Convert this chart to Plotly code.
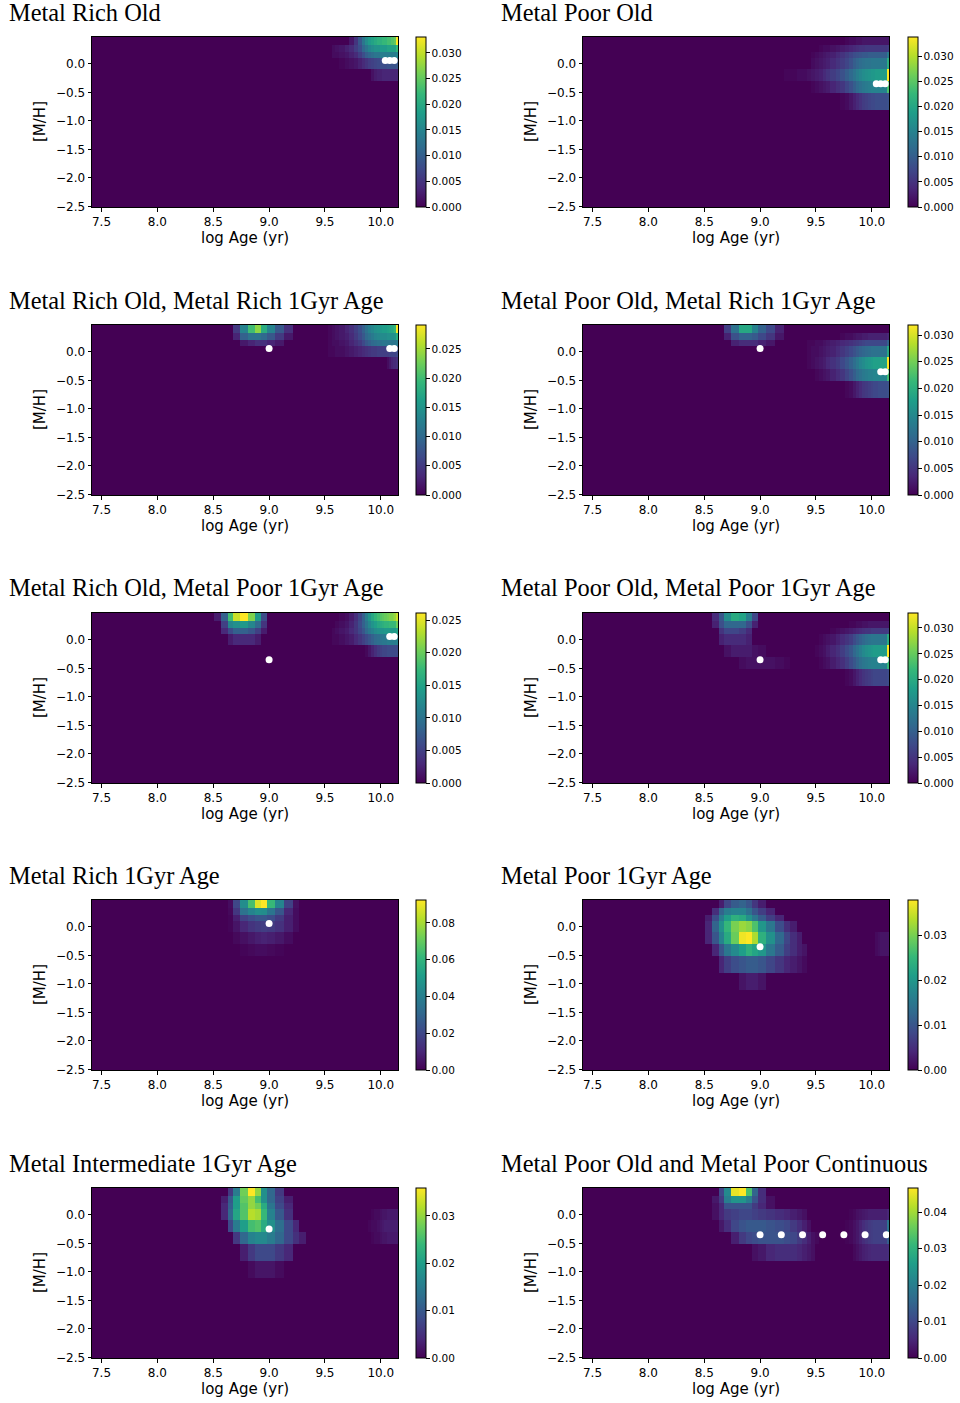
import numpy as np
import plotly.graph_objects as go

# ---------------------------------------------------------------------------
# Model grid: SSP ages (Gyr) and metallicities [M/H]
# ---------------------------------------------------------------------------
AGES_GYR = [0.03, 0.04, 0.05, 0.06, 0.07, 0.08, 0.09, 0.10,
            0.15, 0.20, 0.25, 0.30, 0.35, 0.40, 0.45, 0.50,
            0.60, 0.70, 0.80, 0.90, 1.00,
            1.25, 1.50, 1.75, 2.00, 2.25, 2.50, 2.75, 3.00, 3.25, 3.50, 3.75, 4.00,
            4.5, 5.0, 5.5, 6.0, 6.5, 7.0, 7.5, 8.0, 8.5, 9.0, 9.5, 10.0,
            10.5, 11.0, 11.5, 12.0, 12.5, 13.0, 13.5, 14.0]
MH_GRID = [-2.27, -1.79, -1.49, -1.26, -0.96, -0.66, -0.35, -0.25, 0.06, 0.15, 0.26, 0.40]

# Recovered weights, in units of 1e-3.
# Each entry: (metallicity row index, first age index, weights along age)
W_METAL_RICH_OLD = [
    (11, 35, [2, 5, 9, 13, 16, 18, 19, 20, 21, 21, 22, 22, 23, 23, 24, 24, 25, 33.1]),
    (10, 31, [1, 1.5, 2, 3, 4, 6, 8, 11, 13, 15, 16, 17, 17, 18, 18, 18, 19, 19, 19, 19, 19, 22]),
    (9, 31, [1, 1, 1.5, 2, 3, 4, 6, 8, 10, 11, 12, 13, 13, 14, 14, 14, 14, 14, 14, 14, 14, 15]),
    (8, 33, [0.5, 1, 1.5, 2, 3, 4, 5, 6, 6.5, 7, 7.5, 8, 8, 8, 8.5, 8.5, 8.5, 8.5, 8.5, 9]),
    (7, 41, [1.5, 2.5, 3, 3, 3.5, 3.5, 3.5, 3.5, 3.5, 3.5, 3.5, 3.5]),
]
W_METAL_POOR_OLD = [
    (11, 36, [0.5, 1, 1, 1.5, 1.5, 2, 2, 2, 2, 2, 2, 2, 2, 2, 2, 2, 2]),
    (10, 30, [0.5, 1, 1, 1.5, 2, 2.5, 3, 3.5, 4, 4.5, 5, 5, 5.5, 5.5, 5.5, 5.5, 5.5, 5.5, 5.5, 5.5, 5.5, 5.5, 6]),
    (9, 28, [0.5, 1, 1.5, 2, 2.5, 3, 4, 5, 6, 7, 8, 8.5, 9, 9.5, 9.5, 10, 10, 10, 10, 10, 10, 10, 10, 10, 14]),
    (8, 28, [1, 1.5, 2, 2.5, 3, 4, 5, 6, 7, 8.5, 10, 11, 12, 12.5, 13, 13, 13.5, 13.5, 13.5, 13.5, 13.5, 13.5, 13.5, 13.5, 21]),
    (7, 23, [0.5, 0.5, 1, 1, 1.5, 2, 2.5, 3, 4, 5, 6, 7, 8.5, 10, 11.5, 13, 14.5, 15.5, 16.5, 17, 17.5, 18, 18,
             18.5, 18.5, 18.5, 18.5, 18.5, 18.5, 33.8]),
    (6, 28, [0.5, 1, 1.5, 2, 2.5, 3.5, 4.5, 5.5, 7, 8.5, 10, 11.5, 12.5, 13.5, 14, 14.5, 15, 15, 15, 15, 15, 15, 15, 15, 24]),
    (5, 35, [0.5, 1, 2, 3, 4, 5, 6, 6.5, 7, 7.5, 7.5, 8, 8, 8, 8, 8, 8, 8.5]),
]
W_MRO_MR1GYR = [
    (11, 15, [5, 13, 20, 24, 18, 13, 8, 4]),
    (10, 15, [3, 9, 11, 11, 10, 8, 5, 2]),
    (9, 16, [2, 3, 4, 4, 3, 2]),
    (11, 30, [0.5, 1, 1.5, 2, 3, 4, 5.5, 7, 9, 11, 12.5, 13.5, 14.5, 15, 15.5, 16, 16, 16.5, 17, 17.5, 18, 19, 29.1]),
    (10, 30, [0.5, 1, 1.5, 2, 2.5, 3.5, 5, 6.5, 8, 10, 11, 12, 13, 13.5, 14, 14, 14, 14.5, 14.5, 14.5, 14.5, 15, 18]),
    (9, 30, [0.5, 1, 1, 1.5, 2, 3, 4, 5, 6.5, 8, 9, 10, 10.5, 11, 11, 11.5, 11.5, 11.5, 11.5, 11.5, 11.5, 11.5, 12]),
    (8, 30, [0.5, 0.5, 1, 1, 1.5, 2, 2.5, 3, 3.5, 4, 4.5, 5, 5, 5.5, 5.5, 5.5, 5.5, 5.5, 6, 6, 6, 6, 6.5]),
    (7, 47, [1, 2, 3, 3.5, 3.5, 4]),
]
W_MPO_MR1GYR = [
    (11, 15, [6, 12, 19, 19, 14, 10, 7, 3]),
    (10, 15, [3, 8, 10, 10, 9, 7, 5, 2]),
    (9, 16, [3, 4, 4, 4, 3, 2]),
    (10, 35, [0.5, 1, 1, 1.5, 2, 2, 2.5, 2.5, 3, 3, 3, 3, 3, 3, 3, 3, 3, 3.5]),
    (9, 27, [0.5, 0.5, 1, 1, 1.5, 2, 2.5, 3, 3.5, 4, 4.5, 5, 5.5, 6, 6.5, 7, 7, 7, 7, 7, 7, 7, 7, 7, 7, 10]),
    (8, 27, [0.5, 1, 1, 1.5, 2, 2.5, 3, 4, 5, 6, 7, 8, 9, 10, 10.5, 11, 11.5, 12, 12, 12, 12, 12, 12, 12, 12, 19]),
    (7, 27, [0.5, 1, 1.5, 2, 2.5, 3.5, 4.5, 5.5, 7, 8.5, 10, 11.5, 13, 14.5, 15.5, 16.5, 17, 17.5, 18, 18, 18,
             18.5, 18.5, 18.5, 18.5, 31.9]),
    (6, 29, [0.5, 1, 1.5, 2, 3, 4, 5, 6.5, 8, 9.5, 11, 12, 13, 13.5, 14, 14, 14.5, 14.5, 14.5, 14.5, 14.5, 14.5, 14.5, 22]),
    (5, 36, [0.5, 1, 2, 3, 4, 5, 5.5, 6, 6.5, 7, 7, 7.5, 7.5, 7.5, 7.5, 7.5, 8]),
]
W_MRO_MP1GYR = [
    (11, 12, [2, 8, 18, 24, 26.1, 21, 14, 6]),
    (10, 13, [5, 12, 13, 14, 12, 9, 4]),
    (9, 13, [3, 6, 8, 8, 7, 5, 2]),
    (8, 14, [2, 3, 3, 3, 2]),
    (11, 33, [0.5, 1, 2, 3.5, 5.5, 8, 11, 13.5, 15.5, 17, 18, 19, 19.5, 20, 20.5, 21, 21, 21.5, 22, 24]),
    (10, 32, [0.5, 1, 1.5, 2.5, 4, 6, 8, 10, 12, 13.5, 14.5, 15.5, 16, 16.5, 17, 17, 17.5, 17.5, 17.5, 17.5, 20]),
    (9, 31, [0.5, 1, 1.5, 2, 3, 4, 5.5, 7, 9, 10.5, 11.5, 12.5, 13, 13.5, 13.5, 14, 14, 14, 14, 14, 14, 15]),
    (8, 31, [0.5, 0.5, 1, 1.5, 2, 3, 4, 5, 6, 7, 8, 9, 9.5, 10, 10.5, 10.5, 11, 11, 11, 11, 11, 11.5]),
    (7, 39, [0.5, 1.5, 2.5, 3.5, 4.5, 5, 5.5, 5.5, 6, 6, 6, 6, 6, 6]),
]
W_MPO_MP1GYR = [
    (11, 13, [4, 9, 16, 20, 19, 14, 7]),
    (10, 13, [3, 8, 11, 11, 11, 8, 3]),
    (9, 14, [5, 7, 7, 6, 4]),
    (8, 14, [3, 4, 4, 4, 3]),
    (7, 15, [1.5, 2.5, 2.5, 2.5, 1.5, 1]),
    (6, 17, [1, 1.5, 1.5, 1.5, 1.5, 1, 0.5]),
    (10, 37, [0.5, 0.5, 1, 1, 1.5, 1.5, 2, 2, 2, 2, 2, 2, 2, 2, 2, 2]),
    (9, 33, [0.5, 1, 1.5, 2, 2.5, 3, 3.5, 4, 4.5, 5, 5, 5.5, 5.5, 5.5, 5.5, 5.5, 5.5, 5.5, 5.5, 6]),
    (8, 30, [0.5, 1, 1.5, 2, 3, 4, 5, 6, 7.5, 9, 10, 11, 12, 12.5, 13, 13, 13, 13, 13, 13, 13, 13, 20]),
    (7, 29, [0.5, 1, 1.5, 2.5, 3.5, 4.5, 6, 7.5, 9, 11, 12.5, 14, 15.5, 16.5, 17, 17.5, 18, 18, 18, 18, 18, 18, 18, 32.9]),
    (6, 30, [0.5, 1, 1.5, 2.5, 3.5, 4.5, 6, 7.5, 9, 10.5, 12, 13, 13.5, 14, 14.5, 14.5, 14.5, 14.5, 14.5, 14.5, 14.5, 14.5, 22]),
    (5, 36, [0.5, 1, 2, 3, 4, 5, 5.5, 6, 6.5, 7, 7, 7, 7, 7, 7, 7, 7.5]),
]
W_METAL_RICH_1GYR = [
    (11, 14, [3, 20, 45, 65, 88, 92.5, 62, 42, 18, 4]),
    (10, 14, [2, 15, 35, 42, 46, 45, 36, 25, 10, 3]),
    (9, 14, [1, 8, 18, 22, 25, 25, 22, 16, 8, 3]),
    (8, 14, [1, 5, 10, 14, 16, 17, 16, 13, 8, 3]),
    (7, 15, [2, 4, 6, 8, 9, 8, 6, 3]),
    (6, 16, [1, 2, 3, 3, 2, 1]),
]
W_METAL_POOR_1GYR = [
    (11, 14, [3, 8, 11, 12, 10, 6, 3]),
    (10, 13, [5, 12, 16, 17, 17, 14, 10, 7, 4]),
    (9, 12, [3, 9, 16, 21, 24, 23, 19, 15, 11, 7, 4]),
    (8, 12, [4, 12, 19, 25, 30, 32, 31, 27, 20, 15, 9, 5, 3]),
    (7, 12, [4, 10, 17, 23, 29, 37, 37.8, 33, 24, 19, 13, 8, 5, 3]),
    (6, 13, [4, 10, 15, 18, 21, 24, 22, 20, 15, 11, 7, 5, 3, 2]),
    (5, 14, [4, 7, 9, 10, 11, 11, 10, 8, 6, 4, 3, 2, 1]),
    (4, 17, [2, 3, 3, 2]),
    (7, 46, [1, 1.5, 2, 2, 2, 2, 2]),
    (6, 46, [1, 1.5, 2, 2, 2, 2, 2]),
]
W_METAL_INTER_1GYR = [
    (11, 14, [6, 15, 28, 35.9, 30, 18, 12, 6]),
    (10, 13, [3, 10, 20, 27, 30, 25, 18, 12, 7, 3]),
    (9, 13, [4, 11, 20, 26, 30, 28, 22, 14, 8, 4]),
    (8, 13, [4, 12, 21, 26, 32, 31, 24, 16, 10, 5]),
    (7, 14, [8, 15, 20, 25, 26, 22, 18, 13, 8, 4]),
    (6, 15, [6, 12, 16, 17, 17, 15, 12, 8, 5, 3]),
    (5, 16, [3, 6, 8, 8, 8, 6, 4]),
    (4, 17, [1, 2, 2, 2, 1]),
    (8, 41, [0.5, 1, 1, 1.5, 2, 2, 2.5, 2.5, 2.5, 2.5, 2.5, 2.5]),
    (7, 40, [0.5, 1, 1, 1.5, 2, 2.5, 3, 3, 3, 3, 3, 3, 3]),
    (6, 41, [0.5, 1, 1, 1.5, 2, 2, 2.5, 2.5, 2.5, 2.5, 2.5, 2.5]),
]
W_MPO_MPCONT = [
    (11, 14, [10, 22, 45, 46.6, 33, 15, 6]),
    (10, 13, [3, 8, 20, 24, 24, 20, 12, 6, 2]),
    (9, 13, [2, 5, 12, 12, 12, 12, 8, 5, 2]),
    (8, 13, [2, 5, 8, 9, 10, 10, 9, 8, 7, 6, 5, 4, 3, 2]),
    (7, 14, [3, 6, 10, 12, 13, 13, 13, 12, 11, 10, 8, 6, 4, 2]),
    (6, 16, [4, 8, 10, 11, 12, 12, 12, 11, 10, 8, 6, 4, 2, 1]),
    (5, 19, [2, 3, 5, 6, 6, 6, 5, 4, 3, 2]),
    (8, 37, [0.5, 1, 2, 2.5, 3, 3.5, 4, 4, 4, 4, 4, 4, 4, 4, 4, 5]),
    (7, 36, [0.5, 1, 2, 3, 4.5, 6, 7, 8, 8.5, 9, 9, 9, 9, 9, 9, 9, 18]),
    (6, 36, [0.5, 1, 2, 3, 4.5, 6, 7, 8, 8.5, 9, 9, 9, 9, 9, 9, 9, 14]),
    (5, 38, [1, 2, 3, 4, 4.5, 5, 5.5, 5.5, 5.5, 5.5, 5.5, 5.5, 5.5, 5.5, 6]),
]
WEIGHT_UNIT = 1e-3

# Input (true) populations: log age and [M/H]
OLD_LOGAGE_3 = [10.04, 10.08, 10.12]
OLD_LOGAGE_2 = [10.08, 10.12]
YOUNG_LOGAGE = 9.0
CONT_LOGAGE = [9.0, 9.19, 9.38, 9.56, 9.75, 9.94, 10.13]
MH_RICH = 0.06
MH_POOR = -0.35
MH_INTER = -0.25

PANELS = [
    ("Metal Rich Old", W_METAL_RICH_OLD, OLD_LOGAGE_3, [MH_RICH] * 3, 0.005, ".3f"),
    ("Metal Poor Old", W_METAL_POOR_OLD, OLD_LOGAGE_3, [MH_POOR] * 3, 0.005, ".3f"),
    ("Metal Rich Old, Metal Rich 1Gyr Age", W_MRO_MR1GYR,
     OLD_LOGAGE_2 + [YOUNG_LOGAGE], [MH_RICH] * 2 + [MH_RICH], 0.005, ".3f"),
    ("Metal Poor Old, Metal Rich 1Gyr Age", W_MPO_MR1GYR,
     OLD_LOGAGE_2 + [YOUNG_LOGAGE], [MH_POOR] * 2 + [MH_RICH], 0.005, ".3f"),
    ("Metal Rich Old, Metal Poor 1Gyr Age", W_MRO_MP1GYR,
     OLD_LOGAGE_2 + [YOUNG_LOGAGE], [MH_RICH] * 2 + [MH_POOR], 0.005, ".3f"),
    ("Metal Poor Old, Metal Poor 1Gyr Age", W_MPO_MP1GYR,
     OLD_LOGAGE_2 + [YOUNG_LOGAGE], [MH_POOR] * 2 + [MH_POOR], 0.005, ".3f"),
    ("Metal Rich 1Gyr Age", W_METAL_RICH_1GYR, [YOUNG_LOGAGE], [MH_RICH], 0.02, ".2f"),
    ("Metal Poor 1Gyr Age", W_METAL_POOR_1GYR, [YOUNG_LOGAGE], [MH_POOR], 0.01, ".2f"),
    ("Metal Intermediate 1Gyr Age", W_METAL_INTER_1GYR, [YOUNG_LOGAGE], [MH_INTER], 0.01, ".2f"),
    ("Metal Poor Old and Metal Poor Continuous", W_MPO_MPCONT,
     CONT_LOGAGE, [MH_POOR] * len(CONT_LOGAGE), 0.01, ".2f"),
]

X_TICKS = [7.5, 8.0, 8.5, 9.0, 9.5, 10.0]
Y_TICKS = [-2.5, -2.0, -1.5, -1.0, -0.5, 0.0]

# ---------------------------------------------------------------------------
log_age = np.log10(np.array(AGES_GYR) * 1e9)
mh = np.array(MH_GRID)
x_lo = log_age[0] - (log_age[1] - log_age[0]) / 2
x_hi = log_age[-1] + (log_age[-1] - log_age[-2]) / 2
y_lo = mh[0] - (mh[1] - mh[0]) / 2
y_hi = mh[-1] + (mh[-1] - mh[-2]) / 2


def build_grid(blocks):
    z = np.zeros((len(MH_GRID), len(AGES_GYR)))
    for row, start, vals in blocks:
        z[row, start:start + len(vals)] = np.asarray(vals, dtype=float) * WEIGHT_UNIT
    return z


W, H = 960, 1403
COL_PX = [(92, 398), (583, 889)]
ROW_PX = [(37, 207), (325, 495), (613, 783), (900, 1070), (1188, 1358)]
CB_PX = [416, 908]
TITLE_PX = [7, 499]


def fx(px):
    return px / W


def fy(py):
    return 1 - py / H


TICK_FONT = dict(family="DejaVu Sans", size=12, color="black")
LABEL_FONT = dict(family="DejaVu Sans", size=15, color="black")
TITLE_FONT = dict(family="Liberation Serif", size=24.4, color="black")

fig = go.Figure()
layout = {}
annotations = []

for k, (title, blocks, dx, dy, cb_dtick, cb_fmt) in enumerate(PANELS):
    r, c = divmod(k, 2)
    ax = k + 1
    xs = "" if ax == 1 else str(ax)
    (px0, px1), (py0, py1) = COL_PX[c], ROW_PX[r]
    z = build_grid(blocks)

    fig.add_trace(go.Heatmap(
        x=log_age, y=mh, z=z,
        colorscale="Viridis", zmin=0, zmax=float(z.max()),
        xaxis="x" + xs, yaxis="y" + xs, hoverinfo="skip",
        colorbar=dict(
            x=fx(CB_PX[c]), xanchor="left", xpad=0,
            y=fy(py0), yanchor="top", ypad=0,
            len=py1 - py0, lenmode="pixels",
            thickness=10, thicknessmode="pixels",
            outlinewidth=1, outlinecolor="black",
            ticks="outside", ticklen=3.5, tickwidth=1, tickcolor="black",
            tick0=0, dtick=cb_dtick, tickformat=cb_fmt,
            tickfont=dict(family="DejaVu Sans", size=10.5, color="black"),
        ),
    ))
    fig.add_trace(go.Scatter(
        x=dx, y=dy, mode="markers",
        marker=dict(color="white", size=7, line=dict(width=0)),
        xaxis="x" + xs, yaxis="y" + xs, hoverinfo="skip", showlegend=False,
    ))

    common = dict(showline=True, mirror=True, linecolor="black", linewidth=1,
                  ticks="outside", ticklen=3.5, tickwidth=1, tickcolor="black",
                  showgrid=False, zeroline=False, tickfont=TICK_FONT,
                  tickformat=".1f", fixedrange=True, automargin=False)
    layout["xaxis" + xs] = dict(domain=[fx(px0), fx(px1)], anchor="y" + xs,
                                range=[x_lo, x_hi], tickvals=X_TICKS, **common)
    layout["yaxis" + xs] = dict(domain=[fy(py1), fy(py0)], anchor="x" + xs,
                                range=[y_lo, y_hi], tickvals=Y_TICKS, **common)

    annotations.append(dict(text=title, x=fx(TITLE_PX[c]), y=fy(py0 - 25),
                            xref="paper", yref="paper", xanchor="left", yanchor="middle",
                            showarrow=False, font=TITLE_FONT))
    annotations.append(dict(text="log Age (yr)", x=fx((px0 + px1) / 2), y=fy(py1 + 31),
                            xref="paper", yref="paper", xanchor="center", yanchor="middle",
                            showarrow=False, font=LABEL_FONT))
    annotations.append(dict(text="[M/H]", x=fx(px0 - 52), y=fy((py0 + py1) / 2),
                            xref="paper", yref="paper", xanchor="center", yanchor="middle",
                            textangle=-90, showarrow=False, font=LABEL_FONT))

fig.update_layout(
    width=W, height=H, autosize=False,
    margin=dict(l=0, r=0, t=0, b=0, pad=0, autoexpand=False),
    paper_bgcolor="white", plot_bgcolor="white",
    showlegend=False, annotations=annotations,
    font=dict(family="DejaVu Sans", color="black"),
    **layout,
)

fig.write_html("out.html")
